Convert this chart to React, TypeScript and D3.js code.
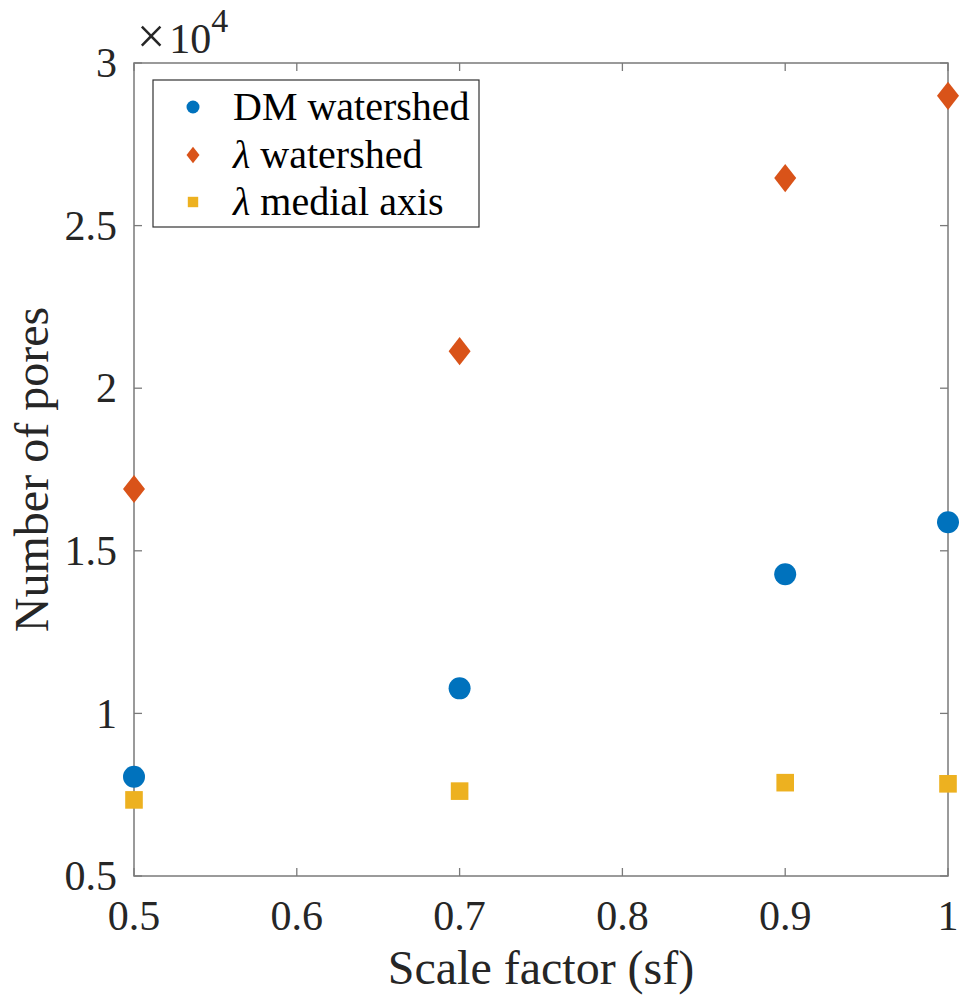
import React from "react";
import * as d3 from "d3";

const scaleFactors = [0.5, 0.7, 0.9, 1.0];
const dmWatershed = [8050, 10770, 14280, 15880];
const lambdaWatershed = [16900, 21140, 26460, 28990];
const lambdaMedial = [7340, 7610, 7870, 7835];
const xTicks = [0.5, 0.6, 0.7, 0.8, 0.9, 1.0];
const yTicks = [5000, 10000, 15000, 20000, 25000, 30000];
const seriesNames = ["DM watershed", "λ watershed", "λ medial axis"];
const colors = ["#0072BD", "#D95319", "#EDB120"];

const W = 959, H = 1002;
const L = 134, R = 948, T = 63, B = 876;
const FONT = "Liberation Serif, DejaVu Serif, serif";
const AX = "#7a7a7a";
const TXT = "#262626";
const ts = { fontFamily: FONT };

function Marker({ kind, x, y, s, color }: { kind: number; x: number; y: number; s: number; color: string }) {
  if (kind === 0) return <circle cx={x} cy={y} r={s / 2} fill={color} />;
  if (kind === 1) {
    const w = s / 2, h = (s * 1.28) / 2;
    return <path d={`M${x},${y - h}L${x + w},${y}L${x},${y + h}L${x - w},${y}Z`} fill={color} />;
  }
  const q = s * 0.8;
  return <rect x={x - q / 2} y={y - q / 2} width={q} height={q} fill={color} />;
}

export default function App() {
  const x = d3.scaleLinear().domain([0.5, 1.0]).range([L, R]);
  const y = d3.scaleLinear().domain([5000, 30000]).range([B, T]);
  const series = [dmWatershed, lambdaWatershed, lambdaMedial];
  const fmtX = (v: number) => (v === 1 ? "1" : d3.format(".1f")(v));
  const fmtY = (v: number) => String(v / 10000);
  const tl = 8;
  const legRows = [107, 155, 202];
  return (
    <svg width={W} height={H} style={{ position: "absolute", left: 0, top: 0, background: "#fff" }}>
      <rect x={0} y={0} width={W} height={H} fill="#fff" />
      {xTicks.map((t) => (
        <g key={"xt" + t}>
          <line x1={x(t)} x2={x(t)} y1={B} y2={B - tl} stroke={AX} strokeWidth={1.3} />
          <line x1={x(t)} x2={x(t)} y1={T} y2={T + tl} stroke={AX} strokeWidth={1.3} />
          <text x={x(t)} y={930} textAnchor="middle" fontSize={42} fill={TXT} style={ts}>{fmtX(t)}</text>
        </g>
      ))}
      {yTicks.map((t) => (
        <g key={"yt" + t}>
          <line x1={L} x2={L + tl} y1={y(t)} y2={y(t)} stroke={AX} strokeWidth={1.3} />
          <line x1={R} x2={R - tl} y1={y(t)} y2={y(t)} stroke={AX} strokeWidth={1.3} />
          <text x={117} y={y(t)} dy="0.34em" textAnchor="end" fontSize={42} fill={TXT} style={ts}>{fmtY(t)}</text>
        </g>
      ))}
      <rect x={L} y={T} width={R - L} height={B - T} fill="none" stroke={AX} strokeWidth={1.5} />
      <text x={137} y={53} fontSize={42} fill={TXT} style={ts}>
        <tspan fontSize={50}>×</tspan><tspan dx={4}>10</tspan><tspan dy={-21} fontSize={34}>4</tspan>
      </text>
      <text x={(L + R) / 2} y={984} textAnchor="middle" fontSize={48} fill={TXT} style={ts}>Scale factor (sf)</text>
      <text transform={`translate(48,${(T + B) / 2}) rotate(-90)`} textAnchor="middle" fontSize={48} fill={TXT} style={ts}>Number of pores</text>
      {series.map((vals, si) =>
        vals.map((v, i) => (
          <Marker key={si + "-" + i} kind={si} x={x(scaleFactors[i])} y={y(v)} s={22} color={colors[si]} />
        ))
      )}
      <rect x={153} y={80} width={326} height={147} fill="#fff" stroke="#333" strokeWidth={1.2} />
      {seriesNames.map((n, i) => (
        <g key={n}>
          <Marker kind={i} x={193} y={legRows[i]} s={13} color={colors[i]} />
          <text x={233} y={legRows[i]} dy="0.33em" fontSize={40} fill="#000" style={ts}>
            {n.startsWith("λ") ? (
              <>
                <tspan fontStyle="italic">λ</tspan>
                {n.slice(1)}
              </>
            ) : (
              n
            )}
          </text>
        </g>
      ))}
    </svg>
  );
}
